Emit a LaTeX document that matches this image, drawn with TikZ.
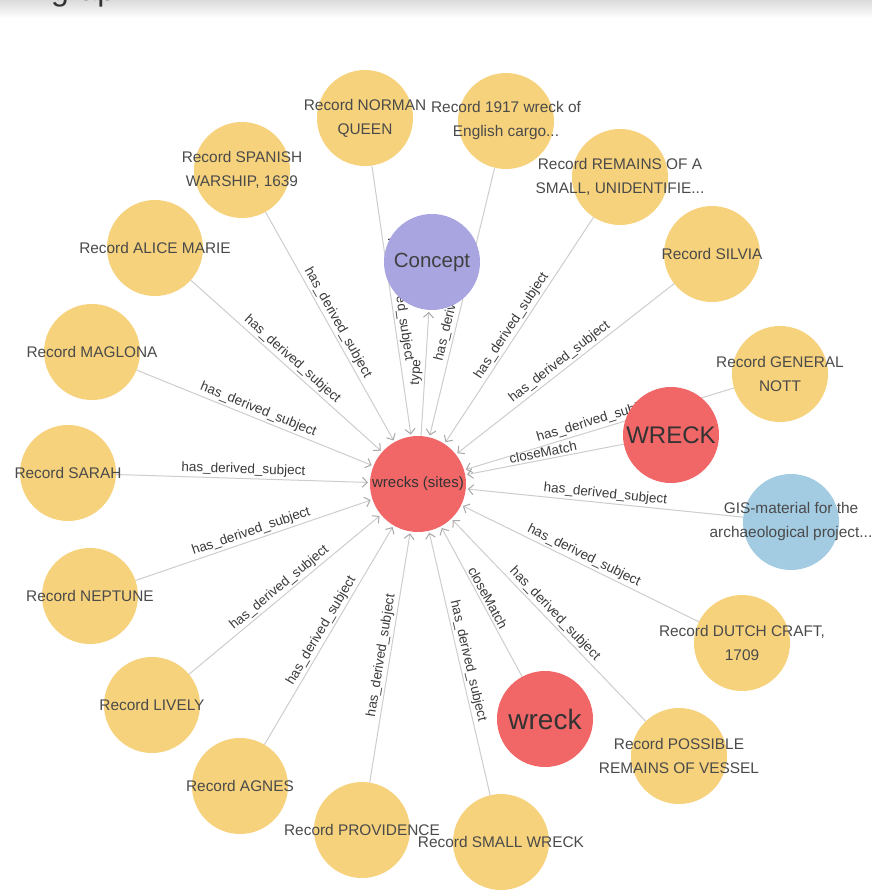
\documentclass[tikz,border=0pt]{standalone}
\usepackage{fontspec}
\setmainfont{Liberation Sans}
\usetikzlibrary{arrows.meta}
\pgfdeclarelayer{edgelayer}
\pgfdeclarelayer{textlayer}
\pgfsetlayers{edgelayer,main,textlayer}
\definecolor{recfill}{HTML}{F6D27C}
\definecolor{redfill}{HTML}{F16667}
\definecolor{purplefill}{HTML}{A8A5E0}
\definecolor{bluefill}{HTML}{A3CCE3}
\definecolor{txtc}{HTML}{4A4A4A}
\definecolor{labc}{HTML}{3A3A3A}
\definecolor{edgec}{HTML}{CDCDCD}
\definecolor{tipc}{HTML}{A8A8A8}
\begin{document}
\begin{tikzpicture}[x=1pt,y=-1pt,
  disc/.style={circle, minimum size=96pt, inner sep=0pt, outer sep=0pt},
  recdisc/.style={disc, fill=recfill},
  reddisc/.style={disc, fill=redfill},
  nodetext/.style={font=\fontsize{15.4}{24}\selectfont, text=txtc, align=center, inner sep=0pt},
  rel/.style={draw=edgec, line width=1pt, -{Straight Barb[length=5pt,width=10pt,color=tipc]}, shorten >=2pt},
  rellabel/.style={midway, sloped, above=1pt, inner sep=1pt, font=\fontsize{13.5}{14}\selectfont, text=labc}
]
\useasboundingbox (0,0) rectangle (872,894);
\shade[top color=black!14, bottom color=white] (0,0) rectangle (872,18);
\begin{scope}
  \clip (0,0) rectangle (872,894);
  \node[anchor=base west, inner sep=0pt, font=\fontsize{32}{32}\selectfont, text=black!80] (heading) at (51,1) {graph};
\end{scope}

% circles
\node[recdisc] (nq) at (365,118) {};
\node[recdisc] (ye) at (506,121) {};
\node[recdisc] (rm) at (620,177) {};
\node[recdisc] (sv) at (712,254) {};
\node[recdisc] (gn) at (780,374) {};
\node[disc, fill=bluefill] (gis) at (791,522) {};
\node[recdisc] (dc) at (742,643) {};
\node[recdisc] (pr) at (679,756) {};
\node[recdisc] (sw) at (501,842) {};
\node[recdisc] (pv) at (362,830) {};
\node[recdisc] (ag) at (240,786) {};
\node[recdisc] (lv) at (152,705) {};
\node[recdisc] (np) at (90,596) {};
\node[recdisc] (sa) at (68,473) {};
\node[recdisc] (mg) at (92,352) {};
\node[recdisc] (am) at (155,248) {};
\node[recdisc] (sp) at (242,170) {};
\node[reddisc] (ws) at (418,484) {};
\node[disc, fill=purplefill] (cp) at (432,262) {};
\node[reddisc] (WR) at (671,435) {};
\node[reddisc] (wk) at (545,719) {};

% edges
\begin{pgfonlayer}{edgelayer}
\draw[rel] (nq) -- (ws) node[rellabel] {has\_derived\_subject};
\draw[rel] (ye) -- (ws) node[rellabel] {has\_derived\_subject};
\draw[rel] (rm) -- (ws) node[rellabel] {has\_derived\_subject};
\draw[rel] (sv) -- (ws) node[rellabel] {has\_derived\_subject};
\draw[rel] (gn) -- (ws) node[rellabel] {has\_derived\_subject};
\draw[rel] (gis) -- (ws) node[rellabel] {has\_derived\_subject};
\draw[rel] (dc) -- (ws) node[rellabel] {has\_derived\_subject};
\draw[rel] (pr) -- (ws) node[rellabel] {has\_derived\_subject};
\draw[rel] (sw) -- (ws) node[rellabel] {has\_derived\_subject};
\draw[rel] (pv) -- (ws) node[rellabel] {has\_derived\_subject};
\draw[rel] (ag) -- (ws) node[rellabel] {has\_derived\_subject};
\draw[rel] (lv) -- (ws) node[rellabel] {has\_derived\_subject};
\draw[rel] (np) -- (ws) node[rellabel] {has\_derived\_subject};
\draw[rel] (sa) -- (ws) node[rellabel] {has\_derived\_subject};
\draw[rel] (mg) -- (ws) node[rellabel] {has\_derived\_subject};
\draw[rel] (am) -- (ws) node[rellabel] {has\_derived\_subject};
\draw[rel] (sp) -- (ws) node[rellabel] {has\_derived\_subject};
\draw[rel] (ws) -- (cp) node[rellabel] {type};
\draw[rel] (WR) -- (ws) node[rellabel] {closeMatch};
\draw[rel] (wk) -- (ws) node[rellabel] {closeMatch};
\end{pgfonlayer}

% texts
\begin{pgfonlayer}{textlayer}
\node[nodetext] (tnq) at (nq) {Record NORMAN\\QUEEN};
\node[nodetext] (tye) at (ye) {Record 1917 wreck of\\English cargo...};
\node[nodetext] (trm) at (rm) {Record REMAINS OF A\\SMALL, UNIDENTIFIE...};
\node[nodetext] (tsv) at (sv) {Record SILVIA};
\node[nodetext] (tgn) at (gn) {Record GENERAL\\NOTT};
\node[nodetext] (tgis) at (gis) {GIS-material for the\\archaeological project...};
\node[nodetext] (tdc) at (dc) {Record DUTCH CRAFT,\\1709};
\node[nodetext] (tpr) at (pr) {Record POSSIBLE\\REMAINS OF VESSEL};
\node[nodetext] (tsw) at (sw) {Record SMALL WRECK};
\node[nodetext] (tpv) at (pv) {Record PROVIDENCE};
\node[nodetext] (tag) at (ag) {Record AGNES};
\node[nodetext] (tlv) at (lv) {Record LIVELY};
\node[nodetext] (tnp) at (np) {Record NEPTUNE};
\node[nodetext] (tsa) at (sa) {Record SARAH};
\node[nodetext] (tmg) at (mg) {Record MAGLONA};
\node[nodetext] (tam) at (am) {Record ALICE MARIE};
\node[nodetext] (tsp) at (sp) {Record SPANISH\\WARSHIP, 1639};
\node[nodetext, text=black!80, font=\fontsize{15}{18}\selectfont] (tws) at (ws) {wrecks (sites)};
\node[nodetext, text=black!75, font=\fontsize{20.5}{24}\selectfont] (tcp) at (cp) {Concept};
\node[nodetext, text=black!80, font=\fontsize{24}{28}\selectfont] (tWR) at (WR) {WRECK};
\node[nodetext, text=black!80, font=\fontsize{28}{32}\selectfont] (twk) at (wk) {wreck};
\end{pgfonlayer}
\end{tikzpicture}
\end{document}
